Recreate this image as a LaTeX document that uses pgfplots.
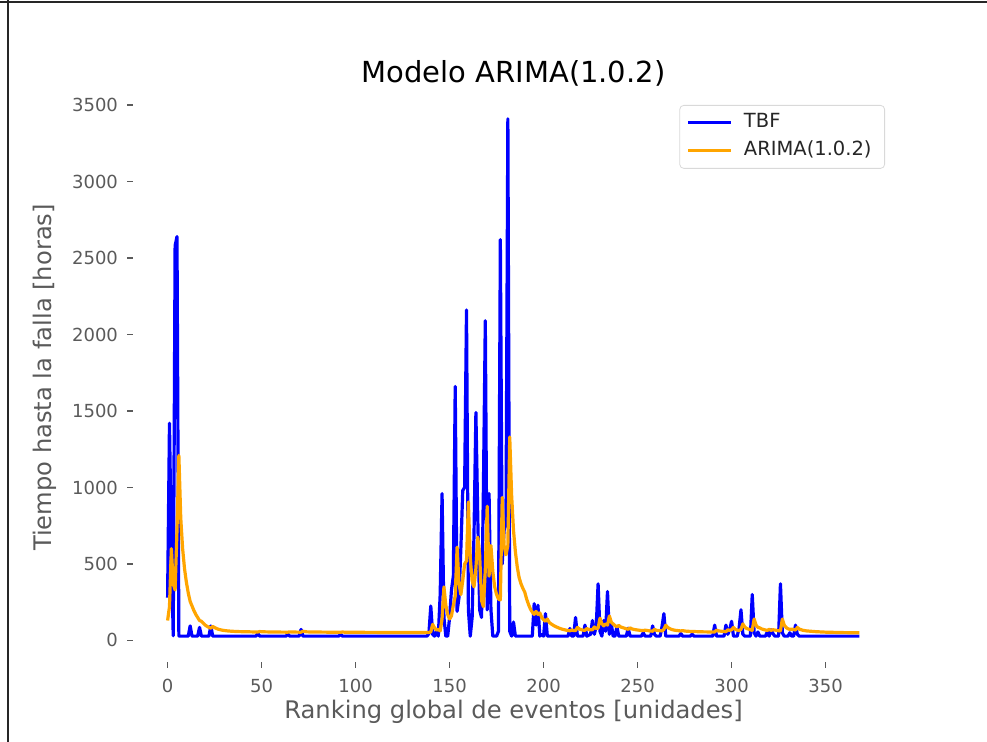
\documentclass[border=0pt]{standalone}
\usepackage{fontspec}
\setmainfont{DejaVu Sans}
\usepackage{pgfplots}
\pgfplotsset{compat=1.18}
\definecolor{labelgray}{HTML}{5A5A5A}
\definecolor{tbfblue}{RGB}{0,0,255}
\definecolor{arimaorange}{HTML}{FFA500}
\begin{document}
\begin{tikzpicture}
\useasboundingbox (0,0) rectangle (493.5pt,371pt);
\draw[line width=1pt, black!85] (0,370pt) -- (493.5pt,370pt);
\draw[line width=1pt, black!85] (4pt,0) -- (4pt,371pt);
\begin{axis}[
  at={(66.5pt,40pt)}, anchor=south west,
  scale only axis, width=380.5pt, height=284.5pt,
  xmin=-18.4, xmax=386.4, ymin=-141, ymax=3579,
  axis line style={draw=none},
  xtick={0,50,...,350}, ytick={0,500,...,3500},
  xtick pos=lower, ytick pos=left,
  tick align=outside, major tick length=3pt,
  tick style={color=labelgray, line width=0.6pt},
  ticklabel style={font=\fontsize{9}{10}\selectfont, text=labelgray},
  /pgf/number format/assume math mode=true,
  /pgf/number format/1000 sep={},
  xticklabel style={yshift=-2pt},
  yticklabel style={xshift=-1pt},
  title={Modelo ARIMA(1.0.2)},
  title style={font=\fontsize{14.5}{16}\selectfont, at={(axis description cs:0.5,1)}, anchor=south, inner sep=0pt, yshift=-3pt},
  xlabel={Ranking global de eventos [unidades]},
  ylabel={Tiempo hasta la falla [horas]},
  xlabel style={font=\fontsize{12.1}{13}\selectfont, text=labelgray, at={(axis description cs:0.5,-0.0879)}, anchor=center},
  ylabel style={font=\fontsize{12.1}{13}\selectfont, text=labelgray, at={(axis description cs:-0.1157,0.5)}, anchor=center},
  legend style={at={(axis description cs:1,1)}, anchor=north east, xshift=-4.5pt, yshift=-6pt,
    draw=black!15, rounded corners=2pt, fill=white,
    font=\fontsize{9.75}{11}\selectfont, text=black!85,
    inner xsep=3.5pt, inner ysep=3pt, row sep=2.5pt,
    nodes={inner xsep=0pt, inner ysep=1pt, text height=7.3pt, text depth=2.2pt}},
  legend cell align=left,
  legend image code/.code={\draw[#1] (0pt,0pt) -- (21.5pt,0pt); \path (27pt,0pt);},
]
\addplot[tbfblue, line width=1.6pt, line join=round] coordinates {
(0,280)(1,1420)(2,600)(3,30)(4,2580)(5,2640)(6,28)(11,28)(12,95)(13,28)(16,28)(17,85)(18,28)(22,28)(23,95)(24,28)
(47,28)(48,45)(49,28)(63,28)(64,40)(65,28)(70,28)(71,72)(72,28)(91,28)(92,40)(93,28)(138,28)(139,45)(140,225)
(141,40)(142,28)(143,60)(144,28)(145,300)(146,960)(147,150)(148,28)(149,28)(150,150)(151,330)(152,420)(153,1660)
(154,190)(155,280)(156,600)(157,980)(158,1000)(159,2160)(160,200)(161,28)(162,150)(163,700)(164,1490)(165,800)
(166,200)(167,150)(168,1000)(169,2090)(170,200)(171,960)(172,200)(173,28)(175,28)(176,60)(177,2620)(178,500)
(179,720)(180,760)(181,3410)(182,60)(183,28)(184,120)(185,28)(194,28)(195,240)(196,100)(197,230)(198,28)(199,40)
(200,28)(201,175)(202,28)(213,28)(214,78)(215,28)(216,28)(217,150)(218,28)(221,28)(222,100)(223,28)(225,40)
(226,130)(227,40)(228,90)(229,370)(230,60)(231,28)(232,130)(233,60)(234,320)(235,40)(236,110)(237,28)(238,28)
(239,90)(240,28)(244,28)(245,80)(246,28)(252,28)(253,50)(254,28)(257,28)(258,95)(259,40)(260,28)(262,28)(263,90)
(264,175)(265,28)(272,28)(273,45)(274,28)(278,28)(279,40)(280,28)(290,28)(291,100)(292,28)(296,28)(297,100)
(298,40)(299,70)(300,125)(301,28)(303,28)(304,80)(305,200)(306,40)(307,28)(310,28)(311,300)(312,50)(313,28)
(314,55)(315,28)(318,28)(319,55)(320,28)(321,70)(322,45)(323,28)(325,28)(326,370)(327,50)(328,28)(330,28)(331,50)
(332,28)(333,28)(334,100)(335,40)(336,28)(368,28)
};
\addlegendentry{TBF}
\addplot[arimaorange, line width=1.6pt, line join=round] coordinates {
(0,130)(1,220)(2,600)(3,370)(4,330)(5,720)(6,1210)(7,800)(8,600)(9,470)(10,380)(11,310)(12,255)(13,225)(14,195)
(15,170)(16,150)(17,130)(18,125)(19,112)(20,100)(21,92)(22,85)(23,80)(24,92)(25,84)(26,78)(27,73)(28,70)(29,67)
(30,65)(32,62)(34,60)(37,58)(40,57)(44,56)(47,55)(48,55)(49,58)(50,57)(52,56)(56,55)(63,54)(64,54)(65,56)(66,55)
(70,54)(71,54)(72,60)(73,58)(74,56)(77,55)(85,54)(91,53)(92,53)(93,55)(94,54)(100,53)(120,52)(138,52)(139,52)
(140,55)(141,105)(142,82)(143,68)(144,72)(145,62)(146,140)(147,350)(148,230)(149,170)(150,140)(151,160)(152,230)
(153,290)(154,610)(155,373)(156,300)(157,390)(158,500)(159,520)(160,905)(161,540)(162,390)(163,350)(164,470)
(165,675)(166,560)(167,260)(168,220)(169,460)(170,877)(171,420)(172,620)(173,450)(174,350)(175,300)(176,270)
(177,265)(178,935)(179,620)(180,560)(181,620)(182,1330)(183,950)(184,720)(185,580)(186,480)(187,410)(188,370)
(189,340)(190,315)(191,270)(192,235)(193,205)(194,185)(195,170)(196,190)(197,170)(198,180)(199,150)(200,135)
(201,125)(202,140)(203,118)(204,108)(205,100)(206,93)(207,87)(208,82)(209,77)(210,73)(211,70)(212,67)(213,65)
(214,63)(215,68)(216,65)(217,64)(218,85)(219,75)(220,70)(221,67)(222,66)(223,78)(224,72)(225,69)(226,70)(227,88)
(228,78)(229,80)(230,145)(231,110)(232,95)(233,108)(234,100)(235,160)(236,120)(237,108)(238,96)(239,90)(240,98)
(241,88)(242,84)(243,80)(244,76)(245,73)(246,82)(247,75)(248,72)(250,68)(252,65)(253,64)(254,67)(256,63)(258,60)
(259,72)(260,66)(262,63)(263,62)(264,72)(265,100)(266,85)(267,78)(268,72)(270,66)(273,62)(274,64)(276,60)(280,58)
(285,56)(291,55)(292,68)(293,62)(296,58)(297,57)(298,70)(299,65)(300,70)(301,85)(302,72)(304,64)(305,72)(306,108)
(307,88)(308,78)(310,70)(311,66)(312,140)(313,100)(314,85)(315,82)(316,75)(318,68)(319,66)(320,72)(321,66)(322,70)
(323,68)(325,63)(326,62)(327,140)(328,100)(329,85)(330,76)(331,72)(332,74)(334,68)(335,85)(336,74)(338,66)(340,62)
(345,57)(350,54)(360,51)(368,50)
};
\addlegendentry{ARIMA(1.0.2)\hspace*{3pt}}
\end{axis}
\end{tikzpicture}
\end{document}
